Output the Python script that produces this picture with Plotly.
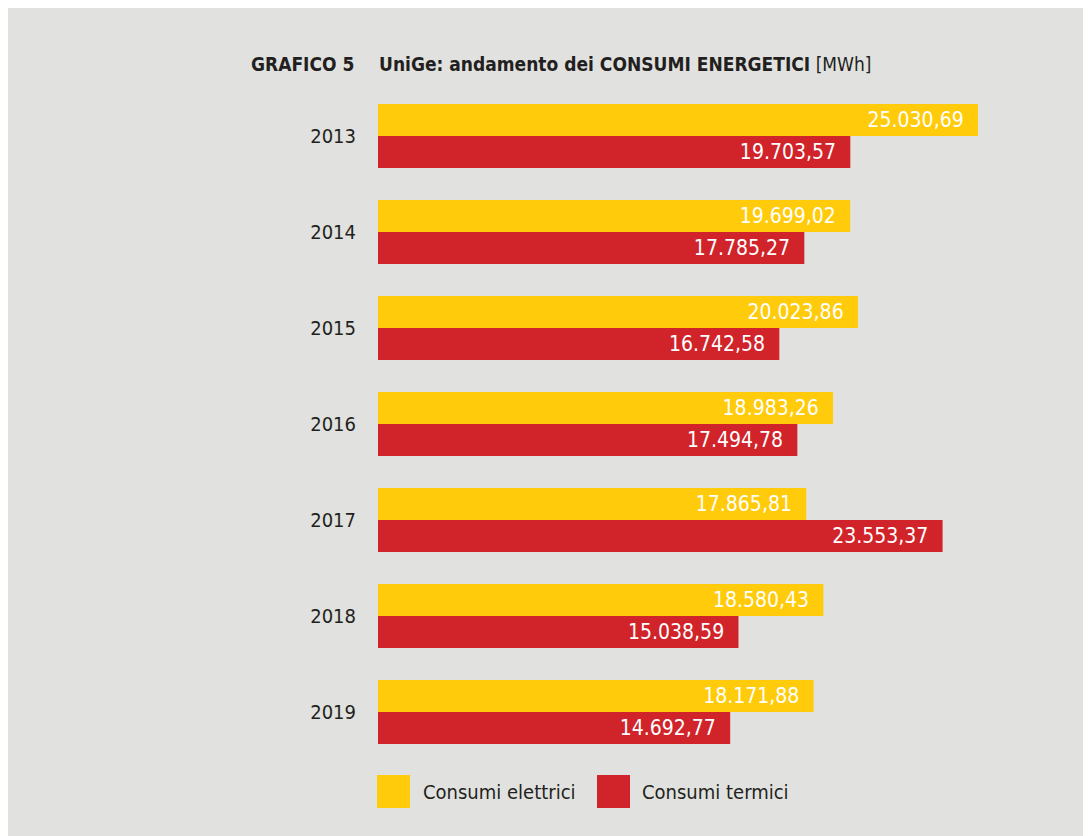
"""UniGe energy consumption chart (GRAFICO 5)"""

import plotly.graph_objects as go

# data
years = ["2013", "2014", "2015", "2016", "2017", "2018", "2019"]
elettrici = [25030.69, 19699.02, 20023.86, 18983.26, 17865.81, 18580.43, 18171.88]
termici = [19703.57, 17785.27, 16742.58, 17494.78, 23553.37, 15038.59, 14692.77]
series_names = ["Consumi elettrici", "Consumi termici"]

YELLOW = "#ffcb0a"
RED = "#d0232a"
BG = "#e1e2df"
INK = "#231f20"
FONT = "DejaVu Sans Condensed, Liberation Sans Narrow, sans-serif"

# figure geometry (pixels, relative to the figure's top-left corner)
FIG_W, FIG_H = 1091, 836
L, R = 370, 99
T, B = 80, 84
W = FIG_W - L - R
H = FIG_H - T - B
x_max = max(elettrici) * W / 600  # biggest bar is 600 px long


def it_fmt(v):
    # 25030.69 -> 25.030,69
    s = f"{v:,.2f}"
    return s.replace(",", "#").replace(".", ",").replace("#", ".")


def px_x(p):
    return (p - L) / W


def px_y(p):
    return 1 - (p - T) / H


pad = "\u2002\u200a"

fig = go.Figure()
for name, vals, col in [(series_names[0], elettrici, YELLOW), (series_names[1], termici, RED)]:
    fig.add_trace(
        go.Bar(
            y=years,
            x=vals,
            orientation="h",
            name=name,
            marker=dict(color=col, line=dict(width=0)),
            text=[it_fmt(v) + pad for v in vals],
            textposition="inside",
            insidetextanchor="end",
            textfont=dict(color="white", size=21, family=FONT),
            cliponaxis=False,
            hoverinfo="skip",
        )
    )

fig.update_layout(
    width=FIG_W,
    height=FIG_H,
    margin=dict(l=L, r=R, t=T, b=B),
    paper_bgcolor=BG,
    plot_bgcolor="rgba(0,0,0,0)",
    barmode="group",
    bargap=1 - 64 / 96,
    bargroupgap=0,
    showlegend=False,
    font=dict(family=FONT, color=INK),
    xaxis=dict(range=[0, x_max], visible=False, fixedrange=True),
    yaxis=dict(
        type="category",
        autorange="reversed",
        showgrid=False,
        zeroline=False,
        showline=False,
        ticks="",
        ticklabelstandoff=21,
        tickfont=dict(size=20, color=INK, family=FONT),
        fixedrange=True,
    ),
)

# title
fig.add_annotation(
    text="<b>GRAFICO 5</b>",
    xref="paper",
    yref="paper",
    x=px_x(348),
    y=px_y(56),
    xanchor="right",
    yanchor="middle",
    showarrow=False,
    font=dict(size=19, color=INK, family=FONT),
)
fig.add_annotation(
    text="<b>UniGe: andamento dei CONSUMI ENERGETICI</b> [MWh]",
    xref="paper",
    yref="paper",
    x=px_x(369),
    y=px_y(56),
    xanchor="left",
    yanchor="middle",
    showarrow=False,
    font=dict(size=19, color=INK, family=FONT),
)

# legend drawn by hand for the big square swatches
for sx, tx, name, col in [(369, 413, series_names[0], YELLOW), (589, 632, series_names[1], RED)]:
    fig.add_shape(
        type="rect",
        xref="paper",
        yref="paper",
        x0=px_x(sx),
        x1=px_x(sx + 33),
        y0=px_y(800),
        y1=px_y(767),
        fillcolor=col,
        line=dict(width=0),
    )
    fig.add_annotation(
        text=name,
        xref="paper",
        yref="paper",
        x=px_x(tx),
        y=px_y(784),
        xanchor="left",
        yanchor="middle",
        showarrow=False,
        font=dict(size=20, color=INK, family=FONT),
    )

fig.write_html("out.html")
